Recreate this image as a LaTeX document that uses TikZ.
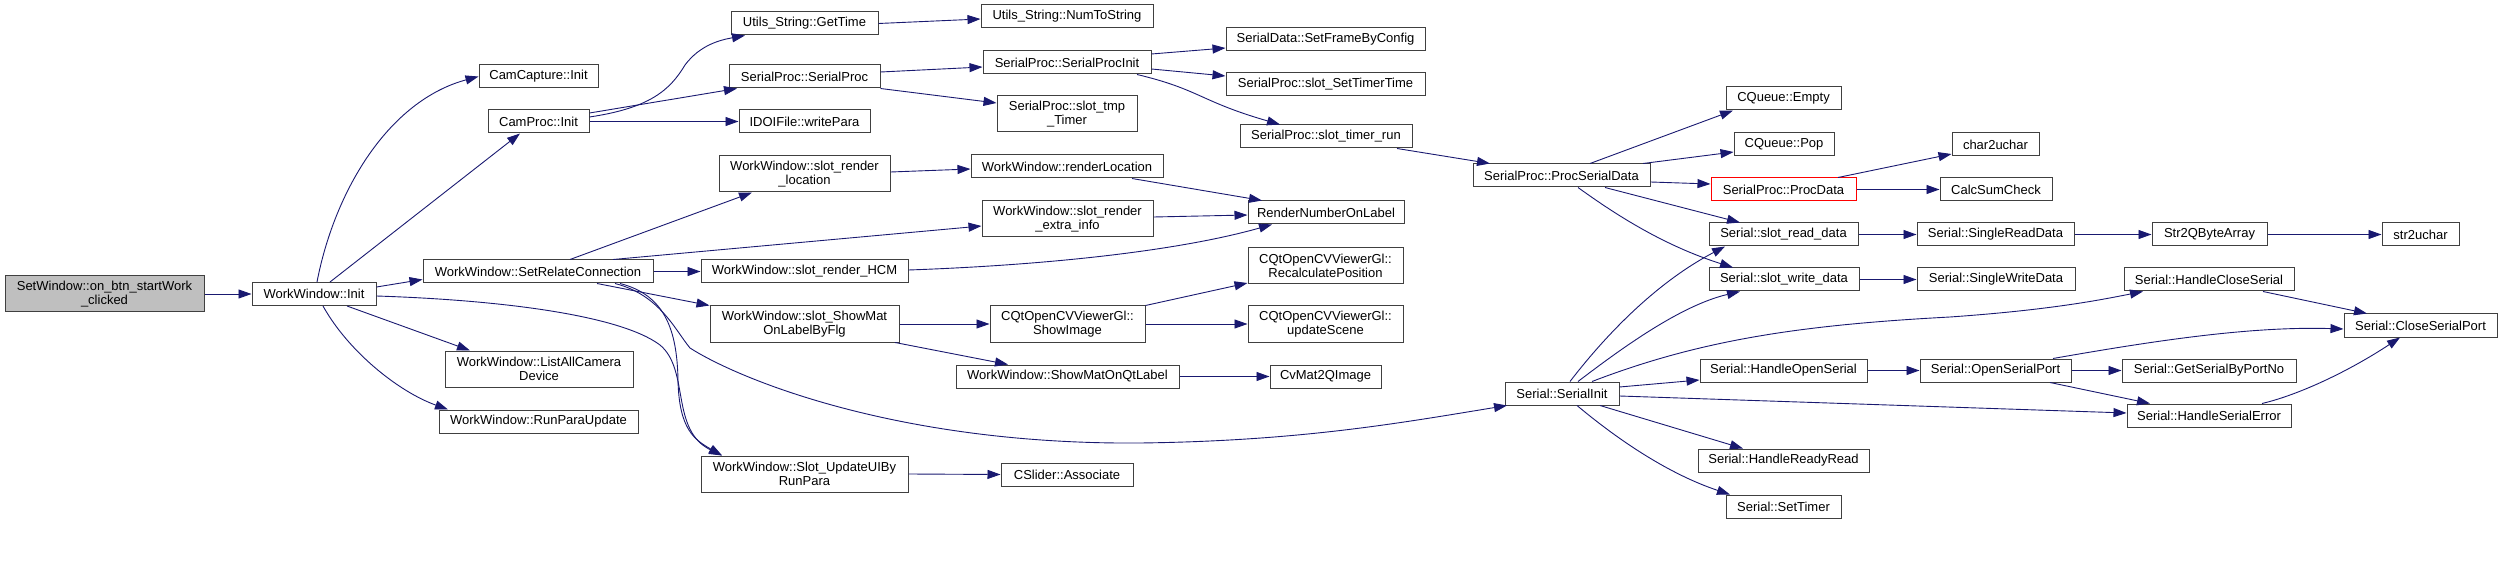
\documentclass[tikz,border=0pt]{standalone}
\usepackage{fontspec}
\setmainfont{Liberation Sans}
\usetikzlibrary{arrows.meta}
\definecolor{edgecol}{HTML}{191970}
\definecolor{boxcol}{HTML}{404040}
\definecolor{rootfill}{HTML}{BFBFBF}
\begin{document}
\begin{tikzpicture}[x=1pt,y=-1pt,
  box/.style={draw=boxcol, fill=white, line width=1pt, inner sep=0pt, align=center,
    font=\fontsize{13}{14}\selectfont, text=black},
  rootbox/.style={box, fill=rootfill},
  redbox/.style={box, draw=red},
  edge/.style={draw=edgecol, line width=0.9pt, -{Triangle[length=13pt,width=9pt]}}]
\useasboundingbox (0,0) rectangle (2503,585);
% column 0-1
\node[rootbox, minimum width=199, minimum height=36] (setw) at (104.5,294) {SetWindow::on\_btn\_startWork\\\_clicked};
\node[box, minimum width=124, minimum height=23] (init) at (314,294) {WorkWindow::Init};
% column 2
\node[box, minimum width=119, minimum height=23] (camcap) at (538.5,76.5) {CamCapture::Init};
\node[box, minimum width=101, minimum height=23] (camproc) at (538.5,121.5) {CamProc::Init};
\node[box, minimum width=230, minimum height=23] (setrel) at (538,271.5) {WorkWindow::SetRelateConnection};
\node[box, minimum width=188, minimum height=36] (listall) at (539,369) {WorkWindow::ListAllCamera\\Device};
\node[box, minimum width=199, minimum height=23] (runpara) at (538.5,421.5) {WorkWindow::RunParaUpdate};
% column 3
\node[box, minimum width=147, minimum height=23] (gettime) at (804.5,23.5) {Utils\_String::GetTime};
\node[box, minimum width=151, minimum height=23] (serialproc) at (804.5,76.5) {SerialProc::SerialProc};
\node[box, minimum width=131, minimum height=23] (writepara) at (804.5,121.5) {IDOIFile::writePara};
\node[box, minimum width=171, minimum height=36] (slotloc) at (804.5,174) {WorkWindow::slot\_render\\\_location};
\node[box, minimum width=207, minimum height=23] (hcm) at (804.5,271.5) {WorkWindow::slot\_render\_HCM};
\node[box, minimum width=189, minimum height=36] (showflg) at (804.5,324) {WorkWindow::slot\_ShowMat\\OnLabelByFlg};
\node[box, minimum width=207, minimum height=36] (slotupd) at (804.5,474) {WorkWindow::Slot\_UpdateUIBy\\RunPara};
% column 4
\node[box, minimum width=172, minimum height=23] (numtostr) at (1067,16.5) {Utils\_String::NumToString};
\node[box, minimum width=168, minimum height=23] (spinit) at (1067,62.5) {SerialProc::SerialProcInit};
\node[box, minimum width=140, minimum height=36] (slottmp) at (1067,114) {SerialProc::slot\_tmp\\\_Timer};
\node[box, minimum width=192, minimum height=23] (renderloc) at (1067,166.5) {WorkWindow::renderLocation};
\node[box, minimum width=171, minimum height=36] (extra) at (1067.5,219) {WorkWindow::slot\_render\\\_extra\_info};
\node[box, minimum width=155, minimum height=36] (showimg) at (1067.5,324) {CQtOpenCVViewerGl::\\ShowImage};
\node[box, minimum width=223, minimum height=23] (showqt) at (1067.5,376.5) {WorkWindow::ShowMatOnQtLabel};
\node[box, minimum width=132, minimum height=23] (cslider) at (1067,474.5) {CSlider::Associate};
% column 5
\node[box, minimum width=199, minimum height=23] (setframe) at (1325.5,39.5) {SerialData::SetFrameByConfig};
\node[box, minimum width=199, minimum height=23] (settt) at (1325.5,84.5) {SerialProc::slot\_SetTimerTime};
\node[box, minimum width=172, minimum height=23] (timerrun) at (1326,136.5) {SerialProc::slot\_timer\_run};
\node[box, minimum width=156, minimum height=23] (rnol) at (1326,212.5) {RenderNumberOnLabel};
\node[box, minimum width=155, minimum height=36] (recalc) at (1325.5,266) {CQtOpenCVViewerGl::\\RecalculatePosition};
\node[box, minimum width=155, minimum height=36] (update) at (1325.5,324) {CQtOpenCVViewerGl::\\updateScene};
\node[box, minimum width=111, minimum height=23] (cvmat) at (1325.5,376.5) {CvMat2QImage};
% column 6
\node[box, minimum width=177, minimum height=23] (psd) at (1561.5,175.5) {SerialProc::ProcSerialData};
\node[box, minimum width=114, minimum height=23] (sinit) at (1562,393.5) {Serial::SerialInit};
% column 7
\node[box, minimum width=115, minimum height=23] (empty) at (1783.5,98.5) {CQueue::Empty};
\node[box, minimum width=100, minimum height=23] (pop) at (1784,144.5) {CQueue::Pop};
\node[redbox, minimum width=145, minimum height=23] (procdata) at (1783.5,189.5) {SerialProc::ProcData};
\node[box, minimum width=149, minimum height=23] (readdata) at (1783.5,234.5) {Serial::slot\_read\_data};
\node[box, minimum width=150, minimum height=23] (writedata) at (1784,279.5) {Serial::slot\_write\_data};
\node[box, minimum width=167, minimum height=23] (hopen) at (1783.5,370.5) {Serial::HandleOpenSerial};
\node[box, minimum width=171, minimum height=23] (readyread) at (1783.5,460.5) {Serial::HandleReadyRead};
\node[box, minimum width=115, minimum height=23] (settimer) at (1783.5,506.5) {Serial::SetTimer};
% column 8
\node[box, minimum width=87, minimum height=23] (c2u) at (1995.5,144.5) {char2uchar};
\node[box, minimum width=112, minimum height=23] (calcsum) at (1996,189.5) {CalcSumCheck};
\node[box, minimum width=157, minimum height=23] (singleread) at (1995.5,234.5) {Serial::SingleReadData};
\node[box, minimum width=158, minimum height=23] (singlewrite) at (1996,279.5) {Serial::SingleWriteData};
\node[box, minimum width=151, minimum height=23] (opensp) at (1995.5,370.5) {Serial::OpenSerialPort};
% column 9
\node[box, minimum width=115, minimum height=23] (str2q) at (2209.5,234.5) {Str2QByteArray};
\node[box, minimum width=170, minimum height=23] (hclose) at (2209,279.5) {Serial::HandleCloseSerial};
\node[box, minimum width=174, minimum height=23] (getserial) at (2209,370.5) {Serial::GetSerialByPortNo};
\node[box, minimum width=164, minimum height=23] (herror) at (2209,415.5) {Serial::HandleSerialError};
% column 10
\node[box, minimum width=77, minimum height=23] (s2u) at (2420.5,234.5) {str2uchar};
\node[box, minimum width=153, minimum height=23] (closesp) at (2420.5,325.5) {Serial::CloseSerialPort};

% ---------------- edges ----------------
\draw[edge] (setw.east) -- (init.west);
\draw[edge] ([xshift=3pt]init.north) .. controls +(18,-93) and +(-89,24) .. (camcap.west);
\draw[edge] ([xshift=16pt]init.north) -- ([xshift=-18.5pt]camproc.south);
\draw[edge] ([yshift=7pt]init.east) -- ([yshift=-8pt]setrel.west);
\draw[edge] ([yshift=-2pt]init.east) .. controls (500,300) and (620,315) .. (660,345)
   .. controls (690,370) and (670,430) .. ([xshift=-82.5pt]slotupd.north);
\draw[edge] ([xshift=33pt]init.south) -- ([xshift=-69pt]listall.north);
\draw[edge] ([xshift=9pt]init.south) .. controls +(25,45) and +(-50,-18) .. ([xshift=-90.5pt]runpara.north);

\draw[edge] ([xshift=32pt]setrel.north) -- ([xshift=-52.5pt]slotloc.south);
\draw[edge] ([xshift=75pt]setrel.north) -- ([yshift=-7pt]extra.west);
\draw[edge] (setrel.east) -- (hcm.west);
\draw[edge] ([xshift=59pt]setrel.south) -- (showflg.north west);
\draw[edge] ([xshift=82pt]setrel.south) .. controls (665,295) and (677,330) .. (678,380)
   .. controls (679,430) and (695,440) .. ([xshift=-82.5pt]slotupd.north);
\draw[edge] ([xshift=77pt]setrel.south) .. controls (660,295) and (675,330) .. (690,348)
   .. controls (740,380) and (900,445) .. (1140,443)
   .. controls (1300,441) and (1400,423) .. ([xshift=-55pt]sinit.south);

\draw[edge] ([yshift=4.5pt]camproc.east) .. controls (650,108) and (670,90) .. (685,65)
   .. controls (700,45) and (720,40) .. ([xshift=-59.5pt]gettime.south);
\draw[edge] ([yshift=8.5pt]camproc.east) -- ([xshift=-67.5pt]serialproc.south);
\draw[edge] (camproc.east) -- (writepara.west);

\draw[edge] (gettime.east) -- ([yshift=-2.5pt]numtostr.west);
\draw[edge] ([yshift=4.5pt]serialproc.east) -- ([yshift=-4.5pt]spinit.west);
\draw[edge] (serialproc.south east) -- ([yshift=11pt]slottmp.west);
\draw[edge] ([yshift=8.5pt]spinit.east) -- ([yshift=-8.5pt]setframe.west);
\draw[edge] ([yshift=-6.5pt]spinit.east) -- ([yshift=8.5pt]settt.west);
\draw[edge] ([xshift=70pt]spinit.south) .. controls +(63,15) and +(-80,-23) .. ([xshift=-46pt]timerrun.north);
\draw[edge] ([xshift=71pt]timerrun.south) -- ([xshift=-71.5pt]psd.north);

\draw[edge] ([xshift=28.5pt]psd.north) -- ([xshift=-50.5pt]empty.south);
\draw[edge] ([xshift=81.5pt]psd.north) -- ([yshift=-7.5pt]pop.west);
\draw[edge] ([yshift=-6.5pt]psd.east) -- ([yshift=5.5pt]procdata.west);
\draw[edge] ([xshift=43.5pt]psd.south) -- ([xshift=-43.5pt]readdata.north);
\draw[edge] ([xshift=16.5pt]psd.south) .. controls +(32,23) and +(-73,-23) .. ([xshift=-51pt]writedata.north);

\draw[edge] ([xshift=54.5pt]procdata.north) -- ([yshift=-9.5pt]c2u.west);
\draw[edge] (procdata.east) -- (calcsum.west);
\draw[edge] (readdata.east) -- (singleread.west);
\draw[edge] (singleread.east) -- (str2q.west);
\draw[edge] (str2q.east) -- (s2u.west);
\draw[edge] (writedata.east) -- (singlewrite.west);

\draw[edge] ([xshift=8pt]sinit.north) .. controls +(40,-52) and +(-65,34) .. ([xshift=-58.5pt]readdata.south);
\draw[edge] ([xshift=16pt]sinit.north) .. controls +(42,-32) and +(-60,14) .. ([xshift=-44pt]writedata.south);
\draw[edge] ([xshift=30pt]sinit.north) .. controls (1700,340) and (1800,325) .. (1950,317)
   .. controls (2050,310) and (2100,300) .. ([xshift=-66pt]hclose.south);
\draw[edge] ([yshift=6.5pt]sinit.east) -- ([yshift=-9.5pt]hopen.west);
\draw[edge] ([yshift=-2.5pt]sinit.east) -- ([yshift=2.5pt]herror.west);
\draw[edge] ([xshift=38pt]sinit.south) -- ([xshift=-40.5pt]readyread.north);
\draw[edge] ([xshift=15pt]sinit.south) .. controls +(43,36) and +(-60,-20) .. ([xshift=-53.5pt]settimer.north);

\draw[edge] (hopen.east) -- (opensp.west);
\draw[edge] ([xshift=57.5pt]opensp.north) .. controls +(97,-17) and +(-94,-3) .. ([yshift=-3.5pt]closesp.west);
\draw[edge] (opensp.east) -- (getserial.west);
\draw[edge] ([xshift=54.5pt]opensp.south) -- ([xshift=-59pt]herror.north);
\draw[edge] ([xshift=54pt]hclose.south) -- ([xshift=-53.5pt]closesp.north);
\draw[edge] ([xshift=53pt]herror.north) .. controls +(38,-9) and +(-50,33) .. ([xshift=-20.5pt]closesp.south);

\draw[edge] ([yshift=2pt]slotloc.east) -- ([yshift=-2.5pt]renderloc.west);
\draw[edge] ([xshift=65pt]renderloc.south) -- ([xshift=-64pt]rnol.north);
\draw[edge] ([yshift=2pt]extra.east) -- ([yshift=-2.5pt]rnol.west);
\draw[edge] ([yshift=1.5pt]hcm.east) .. controls +(142,-5) and +(-92,26) .. ([xshift=-54pt]rnol.south);
\draw[edge] (showflg.east) -- (showimg.west);
\draw[edge] ([xshift=90.5pt]showflg.south) -- ([xshift=-59.5pt]showqt.north);
\draw[edge] (showimg.north east) -- ([yshift=-17pt]recalc.west);
\draw[edge] (showimg.east) -- (update.west);
\draw[edge] (showqt.east) -- (cvmat.west);
\draw[edge] (slotupd.east) -- (cslider.west);
\end{tikzpicture}
\end{document}
